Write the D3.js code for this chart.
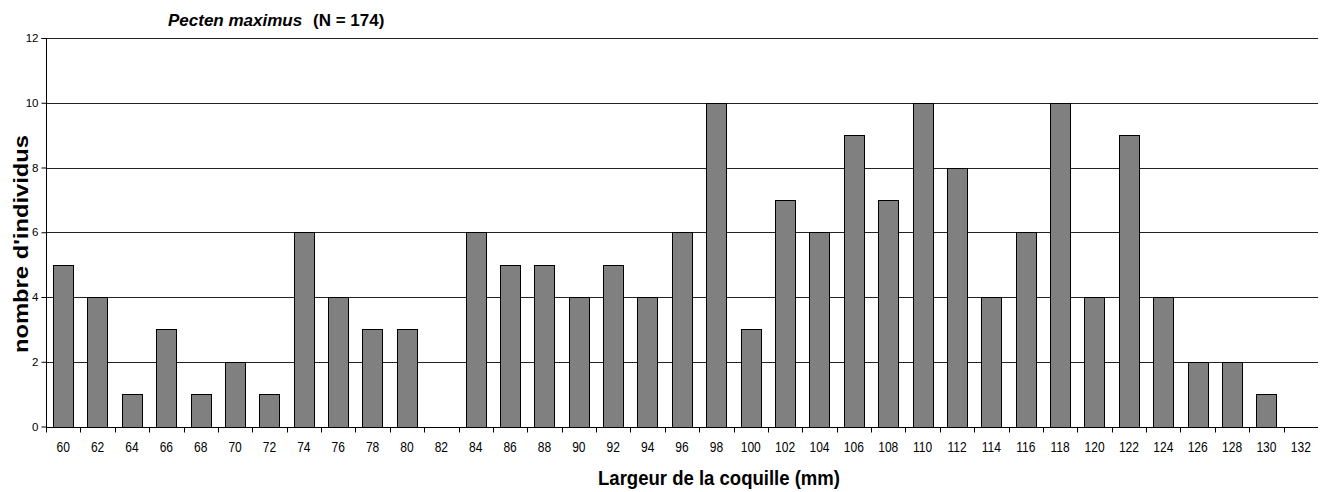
<!DOCTYPE html>
<html><head><meta charset="utf-8">
<script src="https://cdn.jsdelivr.net/npm/d3@7"></script>
<style>body{margin:0;background:#fff;} svg{display:block;font-family:"Liberation Sans",Arial,sans-serif;}</style>
</head><body>
<svg id="c" width="1330" height="492"></svg>
<script>
const categories = ["60","62","64","66","68","70","72","74","76","78","80","82","84","86","88","90","92","94","96","98","100","102","104","106","108","110","112","114","116","118","120","122","124","126","128","130","132"];
const counts = [5,4,1,3,1,2,1,6,4,3,3,0,6,5,5,4,5,4,6,10,3,7,6,9,7,10,8,4,6,10,4,9,4,2,2,1,0];
const yTicks = [0,2,4,6,8,10,12];

const svg = d3.select("#c");
const m = {l:46, r:1318, t:38, b:426.5};
const x = d3.scaleBand().domain(categories).range([m.l, m.r]).paddingInner(0.41).paddingOuter(0.205);
const xb = d3.scaleBand().domain(categories).range([m.l, m.r]);
const y = d3.scaleLinear().domain([0,12]).range([m.b, m.t]);

// gridlines
svg.append("g").selectAll("line").data(yTicks.filter(d=>d>0)).join("line")
  .attr("x1", m.l).attr("x2", m.r).attr("y1", d=>Math.round(y(d))+0.5).attr("y2", d=>Math.round(y(d))+0.5)
  .attr("stroke","#222").attr("stroke-width",1);

// bars
svg.append("g").selectAll("rect").data(categories.map((c,i)=>({c,v:counts[i]})).filter(d=>d.v>0)).join("rect")
  .attr("x", d=>Math.round(x(d.c))+0.5).attr("width", Math.round(x.bandwidth()))
  .attr("y", d=>Math.round(y(d.v))+0.5).attr("height", d=>Math.round(y(0))-Math.round(y(d.v)))
  .attr("fill","#808080").attr("stroke","#000").attr("stroke-width",1);

// y axis
const ya = svg.append("g").attr("transform",`translate(${m.l+0.5},0)`)
  .call(d3.axisLeft(y).tickValues(yTicks).tickSize(5).tickPadding(3).tickFormat(d3.format("d")));
ya.select(".domain").attr("d", `M-5,${Math.round(y(12))+0.5}H0V${Math.round(y(0))+0.5}`).attr("stroke","#000");
ya.selectAll(".tick line").attr("stroke","#000");
ya.selectAll(".tick text").attr("font-size","11.5px").attr("fill","#000").attr("font-family","Liberation Sans, Arial, sans-serif");

// x axis
const xa = svg.append("g").attr("transform",`translate(0,${Math.round(y(0))+0.5})`)
  .call(d3.axisBottom(xb).tickSize(0).tickPadding(15));
xa.select(".domain").attr("d", `M${m.l},0H${m.r}`).attr("stroke","#000");
xa.selectAll(".tick text").attr("font-size","14px").attr("fill","#000")
  .attr("font-family","Liberation Sans, Arial, sans-serif").attr("transform","scale(0.86,1)");
// tick marks between categories
xa.append("g").selectAll("line").data(d3.range(categories.length)).join("line")
  .attr("x1", i=>Math.round(xb(categories[i]))+0.5).attr("x2", i=>Math.round(xb(categories[i]))+0.5)
  .attr("y1",0).attr("y2",5).attr("stroke","#000");

// title
const t = svg.append("text").attr("x",168).attr("y",26).attr("font-size","17px").attr("font-weight","bold");
t.append("tspan").attr("font-style","italic").text("Pecten maximus");
t.append("tspan").attr("x",313).text("(N = 174)");

// axis titles
svg.append("text").attr("x",598).attr("y",485)
  .attr("font-size","20px").attr("font-weight","bold")
  .attr("textLength",242).attr("lengthAdjust","spacingAndGlyphs").text("Largeur de la coquille (mm)");
svg.append("text").attr("transform",`translate(28,353) rotate(-90)`)
  .attr("font-size","20px").attr("font-weight","bold")
  .attr("textLength",218).attr("lengthAdjust","spacingAndGlyphs").text("nombre d'individus");
</script>
</body></html>
